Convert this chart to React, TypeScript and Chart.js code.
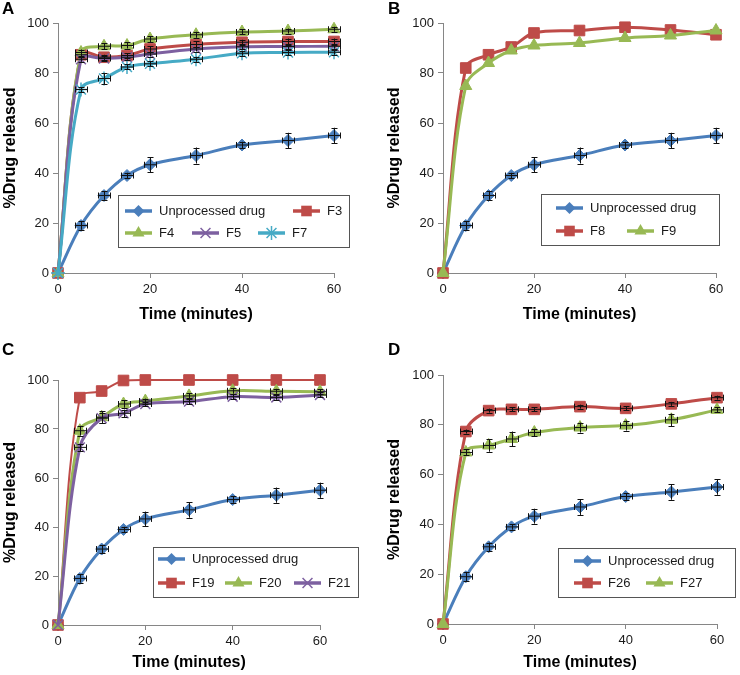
import React, { useEffect, useRef } from 'react';
import { Chart, registerables } from 'chart.js';

Chart.register(...registerables);

// ---------- data ----------
const TIMES = [0, 5, 10, 15, 20, 30, 40, 50, 60];
const X_TICKS = [0, 20, 40, 60];
const Y_TICKS = [0, 20, 40, 60, 80, 100];

const UNPROCESSED = [0, 19, 31, 39, 43.3, 47, 51.2, 53, 55];
const UNPROCESSED_ERR = [0, 1.7, 1.7, 1.1, 3, 3.2, 1.3, 3.1, 3.1];

// Panel A
const F3 = [0, 87.3, 86.3, 87, 89.6, 91.4, 92.3, 92.6, 92.6];
const F3_ERR = [0, 1, 1, 1, 1.2, 1.2, 1, 1.2, 1.2];
const F4 = [0, 88.2, 90.7, 91, 93.6, 95.3, 96.4, 96.8, 97.5];
const F4_ERR = [0, 1.2, 1.2, 1.2, 1.2, 1.2, 1, 1, 1];
const F5 = [0, 85.5, 85.8, 86.3, 87.6, 89.6, 90.5, 90.6, 90.7];
const F5_ERR = [0, 1, 1, 1, 1, 1, 1, 1, 1];
const F7 = [0, 73.4, 77.8, 82.4, 83.7, 85.5, 87.9, 88.2, 88.3];
const F7_ERR = [0, 1, 2.2, 1, 1, 1, 1, 1, 1];

// Panel B
const F8 = [0, 82, 87.3, 90.4, 96, 97, 98.3, 97.2, 95.3];
const F8_ERR = [0, 0, 0, 0, 0, 0, 0, 0, 0];
const F9 = [0, 74.8, 84, 89, 91, 92, 94, 95, 97];
const F9_ERR = [0, 0, 0, 0, 0, 0, 0, 0, 0];

// Panel C
const F19 = [0, 92.8, 95.5, 99.8, 100, 100, 100, 100, 100];
const F19_ERR = [0, 0, 0, 0, 0, 0, 0, 0, 0];
const F20 = [0, 79.3, 84.8, 90.2, 91.4, 93.5, 95.6, 95.4, 95.2];
const F20_ERR = [0, 2, 2.5, 1.5, 1, 1, 1.2, 1, 1];
const F21 = [0, 72.5, 84.4, 86.4, 90.2, 91.2, 93.2, 92.9, 93.9];
const F21_ERR = [0, 1.5, 2, 1.5, 1, 1, 1, 1, 1];

// Panel D
const F26 = [0, 77.3, 85.7, 86.2, 86.2, 87.3, 86.6, 88.4, 90.9];
const F26_ERR = [0, 0.8, 0.8, 0.8, 0.8, 0.8, 0.8, 0.8, 0.8];
const F27 = [0, 68.9, 71.7, 74.3, 76.9, 78.9, 79.7, 82, 86];
const F27_ERR = [0, 1.2, 2.5, 3, 1.5, 2, 2, 2.5, 1];

// ---------- styles ----------
const FONT = '"Liberation Sans", Arial, Helvetica, sans-serif';
const AXIS = '#868686';
const C_BLUE = '#4A7EBB';
const C_RED = '#BE4B48';
const C_GREEN = '#98B954';
const C_PURPLE = '#7D60A0';
const C_CYAN = '#46AAC5';

type Series = { label: string; data: number[]; err: number[]; color: string; style: string; radius: number; width: number };

const UNP: Series = { label: 'Unprocessed drug', data: UNPROCESSED, err: UNPROCESSED_ERR, color: C_BLUE, style: 'rectRot', radius: 6, width: 3 };
const red = (label: string, data: number[], err: number[], width = 3): Series => ({ label, data, err, color: C_RED, style: 'rect', radius: 7.5, width });
const green = (label: string, data: number[], err: number[]): Series => ({ label, data, err, color: C_GREEN, style: 'triangle', radius: 7, width: 3 });
const purple = (label: string, data: number[], err: number[]): Series => ({ label, data, err, color: C_PURPLE, style: 'crossRot', radius: 7, width: 3 });
const cyan = (label: string, data: number[], err: number[]): Series => ({ label, data, err, color: C_CYAN, style: 'star', radius: 7, width: 3 });

type Panel = {
  letter: string;
  left: number; top: number; w: number; h: number;
  area: { l: number; t: number; r: number; b: number };
  yTitleX: number; xTitleY: number;
  letterTop: number; letterLeft: number;
  series: Series[];
  legend: { box: [number, number, number, number]; rows: { y: number; items: { ds: number; x: number }[] }[] };
};

const PANELS: Panel[] = [
  {
    letter: 'A', left: 0, top: 0, w: 370, h: 330,
    area: { l: 58, t: 23, r: 334, b: 273 }, yTitleX: 11, xTitleY: 315,
    letterTop: 0, letterLeft: 2,
    series: [UNP, red('F3', F3, F3_ERR), green('F4', F4, F4_ERR), purple('F5', F5, F5_ERR), cyan('F7', F7, F7_ERR)],
    legend: {
      box: [118, 195, 231, 52],
      rows: [
        { y: 211, items: [{ ds: 0, x: 125 }, { ds: 1, x: 293 }] },
        { y: 233, items: [{ ds: 2, x: 125 }, { ds: 3, x: 192 }, { ds: 4, x: 258 }] },
      ],
    },
  },
  {
    letter: 'B', left: 370, top: 0, w: 370, h: 330,
    area: { l: 73, t: 23, r: 346, b: 273 }, yTitleX: 25, xTitleY: 315,
    letterTop: 0, letterLeft: 18,
    series: [UNP, red('F8', F8, F8_ERR), green('F9', F9, F9_ERR)],
    legend: {
      box: [171, 194, 178, 51],
      rows: [
        { y: 208, items: [{ ds: 0, x: 186 }] },
        { y: 231, items: [{ ds: 1, x: 186 }, { ds: 2, x: 257 }] },
      ],
    },
  },
  {
    letter: 'C', left: 0, top: 330, w: 370, h: 345,
    area: { l: 58, t: 50, r: 320, b: 295 }, yTitleX: 11, xTitleY: 333,
    letterTop: 11, letterLeft: 2,
    series: [UNP, red('F19', F19, F19_ERR, 2), green('F20', F20, F20_ERR), purple('F21', F21, F21_ERR)],
    legend: {
      box: [153, 217, 205, 50],
      rows: [
        { y: 229, items: [{ ds: 0, x: 158 }] },
        { y: 253, items: [{ ds: 1, x: 158 }, { ds: 2, x: 225 }, { ds: 3, x: 294 }] },
      ],
    },
  },
  {
    letter: 'D', left: 370, top: 330, w: 370, h: 345,
    area: { l: 73, t: 45, r: 347, b: 294 }, yTitleX: 25, xTitleY: 333,
    letterTop: 11, letterLeft: 18,
    series: [UNP, red('F26', F26, F26_ERR), green('F27', F27, F27_ERR)],
    legend: {
      box: [188, 218, 177, 49],
      rows: [
        { y: 231, items: [{ ds: 0, x: 204 }] },
        { y: 253, items: [{ ds: 1, x: 204 }, { ds: 2, x: 276 }] },
      ],
    },
  },
];

function drawMarker(ctx: CanvasRenderingContext2D, style: string, x: number, y: number, r: number, color: string) {
  ctx.save();
  ctx.fillStyle = color;
  ctx.strokeStyle = color;
  ctx.lineWidth = 1.5;
  ctx.beginPath();
  if (style === 'rect') {
    const s = r * Math.SQRT1_2;
    ctx.rect(x - s, y - s, 2 * s, 2 * s);
    ctx.fill();
  } else if (style === 'rectRot') {
    ctx.moveTo(x, y - r); ctx.lineTo(x + r, y); ctx.lineTo(x, y + r); ctx.lineTo(x - r, y);
    ctx.closePath(); ctx.fill();
  } else if (style === 'triangle') {
    let a = 0;
    ctx.moveTo(x + Math.sin(a) * r, y - Math.cos(a) * r);
    a += (2 * Math.PI) / 3;
    ctx.lineTo(x + Math.sin(a) * r, y - Math.cos(a) * r);
    a += (2 * Math.PI) / 3;
    ctx.lineTo(x + Math.sin(a) * r, y - Math.cos(a) * r);
    ctx.closePath(); ctx.fill();
  } else {
    const s = r * Math.SQRT1_2;
    ctx.moveTo(x - s, y - s); ctx.lineTo(x + s, y + s);
    ctx.moveTo(x + s, y - s); ctx.lineTo(x - s, y + s);
    if (style === 'star') {
      ctx.moveTo(x, y - r); ctx.lineTo(x, y + r);
      ctx.moveTo(x - r, y); ctx.lineTo(x + r, y);
    }
    ctx.stroke();
  }
  ctx.restore();
}

function PanelChart({ p }: { p: Panel }) {
  const ref = useRef<HTMLCanvasElement | null>(null);
  useEffect(() => {
    if (!ref.current) return;
    const errorBars = {
      id: 'errorBars',
      afterDatasetsDraw(chart: any) {
        const ctx = chart.ctx as CanvasRenderingContext2D;
        const xs = chart.scales.x;
        const ys = chart.scales.y;
        ctx.save();
        ctx.strokeStyle = '#111';
        ctx.lineWidth = 1;
        p.series.forEach((s) => {
          s.data.forEach((v, i) => {
            const e = s.err[i];
            if (!e) return;
            const px = Math.round(xs.getPixelForValue(TIMES[i])) + 0.5;
            const y1 = ys.getPixelForValue(v + e);
            const y2 = ys.getPixelForValue(v - e);
            const py = ys.getPixelForValue(v);
            ctx.beginPath();
            ctx.moveTo(px, y1); ctx.lineTo(px, y2);
            ctx.moveTo(px - 3, Math.round(y1) + 0.5); ctx.lineTo(px + 3, Math.round(y1) + 0.5);
            ctx.moveTo(px - 3, Math.round(y2) + 0.5); ctx.lineTo(px + 3, Math.round(y2) + 0.5);
            // small horizontal bars with end caps
            ctx.moveTo(px - 6, py); ctx.lineTo(px + 6, py);
            ctx.moveTo(px - 6, py - 3); ctx.lineTo(px - 6, py + 3);
            ctx.moveTo(px + 6, py - 3); ctx.lineTo(px + 6, py + 3);
            ctx.stroke();
          });
        });
        ctx.restore();
      },
    };
    const boxLegend = {
      id: 'boxLegend',
      afterDraw(chart: any) {
        const ctx = chart.ctx as CanvasRenderingContext2D;
        const [bx, by, bw, bh] = p.legend.box;
        ctx.save();
        ctx.fillStyle = '#fff';
        ctx.fillRect(bx, by, bw, bh);
        ctx.strokeStyle = '#555';
        ctx.lineWidth = 1;
        ctx.strokeRect(bx + 0.5, by + 0.5, bw, bh);
        ctx.font = `13px ${FONT}`;
        ctx.textBaseline = 'middle';
        ctx.textAlign = 'left';
        p.legend.rows.forEach((row) => {
          row.items.forEach((it) => {
            const s = p.series[it.ds];
            ctx.strokeStyle = s.color;
            ctx.lineWidth = 3.5;
            ctx.beginPath();
            ctx.moveTo(it.x, row.y); ctx.lineTo(it.x + 27, row.y);
            ctx.stroke();
            drawMarker(ctx, s.style, it.x + 13.5, row.y, s.radius, s.color);
            ctx.fillStyle = '#1a1a1a';
            ctx.fillText(s.label, it.x + 34, row.y + 0.5);
          });
        });
        ctx.restore();
      },
    };
    const tickFont = { family: FONT, size: 13 };
    const titleFont = { family: FONT, size: 16, weight: 'bold' as const };
    const chart = new Chart(ref.current, {
      type: 'line',
      data: {
        datasets: p.series.map((s, i) => ({
          label: s.label,
          data: TIMES.map((t, j) => ({ x: t, y: s.data[j] })),
          borderColor: s.color,
          backgroundColor: s.color,
          borderWidth: s.width,
          pointStyle: s.style as any,
          pointRadius: s.radius,
          pointBackgroundColor: s.color,
          pointBorderColor: s.color,
          pointBorderWidth: s.style === 'crossRot' || s.style === 'star' ? 1.5 : 1,
          tension: 0.35,
          fill: false,
          clip: false as any,
          order: -i,
        })),
      },
      options: {
        responsive: false,
        animation: false,
        layout: { padding: { left: 0, top: p.area.t, right: p.w - p.area.r, bottom: 0 } },
        plugins: { legend: { display: false }, tooltip: { enabled: false } },
        scales: {
          x: {
            type: 'linear',
            min: 0, max: 60,
            afterBuildTicks: (s: any) => { s.ticks = X_TICKS.map((v) => ({ value: v })); },
            afterFit: (s: any) => { s.height = p.h - p.area.b; },
            ticks: { font: tickFont, color: '#1a1a1a', padding: 4, maxRotation: 0 },
            grid: { drawOnChartArea: false, tickLength: 5, color: AXIS },
            border: { color: AXIS, width: 1 },
            title: {
              display: true, text: 'Time (minutes)', font: titleFont, color: '#000',
              padding: { top: 0, bottom: p.h - 9.6 - p.xTitleY },
            },
          },
          y: {
            type: 'linear',
            min: 0, max: 100,
            afterBuildTicks: (s: any) => { s.ticks = Y_TICKS.map((v) => ({ value: v })); },
            afterFit: (s: any) => { s.width = p.area.l; },
            ticks: { font: tickFont, color: '#1a1a1a', padding: 4 },
            grid: { drawOnChartArea: false, tickLength: 5, color: AXIS },
            border: { color: AXIS, width: 1 },
            title: {
              display: true, text: '%Drug released', font: titleFont, color: '#000',
              padding: { top: p.yTitleX - 9.6, bottom: 0 },
            },
          },
        },
      },
      plugins: [errorBars, boxLegend],
    });
    return () => chart.destroy();
  }, [p]);
  return (
    <div style={{ position: 'absolute', left: p.left, top: p.top, width: p.w, height: p.h }}>
      <canvas ref={ref} width={p.w} height={p.h} style={{ width: p.w, height: p.h, display: 'block' }} />
      <div
        style={{
          position: 'absolute', left: p.letterLeft, top: p.letterTop,
          font: `bold 17px ${FONT}`, lineHeight: '17px', color: '#000',
        }}
      >
        {p.letter}
      </div>
    </div>
  );
}

export default function App() {
  return (
    <div style={{ position: 'fixed', left: 0, top: 0, width: 740, height: 675, background: '#fff', overflow: 'hidden' }}>
      {PANELS.map((p) => (
        <PanelChart key={p.letter} p={p} />
      ))}
    </div>
  );
}
